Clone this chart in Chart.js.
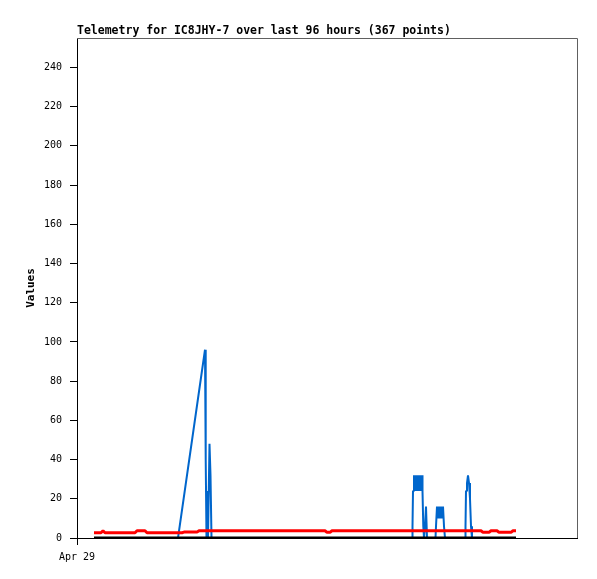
<!DOCTYPE html>
<html>
<head>
<meta charset="utf-8">
<script src="https://cdn.jsdelivr.net/npm/chart.js@4"></script>
<style>
  body { margin: 0; background: #fff; }
  #chart { display: block; }
</style>
</head>
<body>
<canvas id="chart" width="597" height="579"></canvas>
<script>
// hours since Apr 29 00:00
const titleText = "Telemetry for IC8JHY-7 over last 96 hours (367 points)";
const xTickLabels = ["Apr 29"];
const xTickValues = [0];

const blueX = [4.08, 24.24, 30.72, 30.89, 31.08, 31.32, 31.44, 31.8, 32.04, 32.28,
    80.4, 80.52, 80.64, 80.88, 81.12, 81.36, 81.6, 81.84, 82.08, 82.32, 82.56, 82.8, 82.92, 83.11, 83.28, 83.52, 83.76, 84.0,
    86.04, 86.16, 86.4, 86.64, 86.88, 87.12, 87.36, 87.6, 87.84, 88.08, 88.32,
    93.12, 93.24, 93.36, 93.6, 93.84, 94.08, 94.32, 94.56, 94.8, 105.36];
const blueY = [0, 0, 96, 40, 0, 24, 0, 48, 32, 0,
    0, 6, 24, 32, 24, 32, 24, 32, 24, 32, 24, 32, 24, 6, 0, 6, 16, 0,
    0, 6, 16, 10, 16, 10, 16, 10, 16, 6, 0,
    0, 6, 24, 28, 32, 28, 20, 6, 0, 0];

const redX = [4.08, 5.76, 6.24, 6.72, 13.92, 14.4, 16.32, 16.8, 25.2, 25.68, 28.8, 29.28,
    59.52, 60.0, 60.72, 61.2, 96.96, 97.44, 98.88, 99.36, 100.8, 101.28, 104.16, 104.64, 105.36];
const redY = [2.7, 2.7, 3.7, 2.7, 2.7, 3.7, 3.7, 2.7, 2.7, 3.0, 3.0, 3.7,
    3.7, 2.9, 2.9, 3.7, 3.7, 2.9, 2.9, 3.7, 3.7, 2.9, 2.9, 3.7, 3.7];

const blackX = [4.08, 105.36];
const blackY = [0, 0];

function pts(xs, ys) {
    return xs.map((x, i) => ({ x: x, y: ys[i] }));
}

const frame = {
    id: "frame",
    afterDraw(chart) {
        const ctx = chart.ctx;
        const a = chart.chartArea;
        ctx.save();
        ctx.strokeStyle = "#606060";
        ctx.lineWidth = 1;
        ctx.beginPath();
        ctx.moveTo(a.left, a.top + 0.5);
        ctx.lineTo(a.right + 0.5, a.top + 0.5);
        ctx.lineTo(a.right + 0.5, a.bottom);
        ctx.stroke();
        ctx.fillStyle = "#000";
        ctx.font = "bold 11.5px 'DejaVu Sans Mono', monospace";
        ctx.textBaseline = "alphabetic";
        ctx.textAlign = "left";
        ctx.fillText(titleText, a.left, 34);
        ctx.restore();
    },
};

const tickFont = { family: "'DejaVu Sans Mono', monospace", size: 10 };

new Chart(document.getElementById("chart"), {
    type: "line",
    data: {
        datasets: [
            { data: pts(blackX, blackY), borderColor: "#000", borderWidth: 3 },
            { data: pts(redX, redY), borderColor: "#ff0000", borderWidth: 3 },
            { data: pts(blueX, blueY), borderColor: "#0066cc", borderWidth: 2 },
        ],
    },
    options: {
        responsive: false,
        animation: false,
        events: [],
        layout: { padding: { left: 0, top: 38, right: 20, bottom: 0 } },
        elements: { point: { radius: 0 }, line: { tension: 0, borderJoinStyle: "bevel", borderCapStyle: "butt" } },
        plugins: { legend: { display: false }, tooltip: { enabled: false } },
        scales: {
            x: {
                type: "linear",
                min: 0,
                max: 120,
                afterBuildTicks: (s) => { s.ticks = xTickValues.map((v) => ({ value: v })); },
                afterFit: (s) => { s.height = 41; },
                ticks: {
                    color: "#000",
                    font: tickFont,
                    padding: 6,
                    maxRotation: 0,
                    callback: (v, i) => xTickLabels[i],
                },
                grid: { drawOnChartArea: false, tickLength: 7, color: "#000" },
                border: { color: "#000", width: 1 },
            },
            y: {
                min: 0,
                max: 255,
                afterFit: (s) => { s.width = 77; },
                ticks: { stepSize: 20, includeBounds: false, color: "#000", font: tickFont, padding: 8 },
                grid: { drawOnChartArea: false, tickLength: 7, color: "#000" },
                border: { color: "#000", width: 1 },
                title: {
                    display: true,
                    text: "Values",
                    color: "#000",
                    font: { family: "'DejaVu Sans Mono', monospace", size: 11, weight: "bold" },
                    padding: { top: 25, bottom: 0 },
                },
            },
        },
    },
    plugins: [frame],
});
</script>
</body>
</html>
